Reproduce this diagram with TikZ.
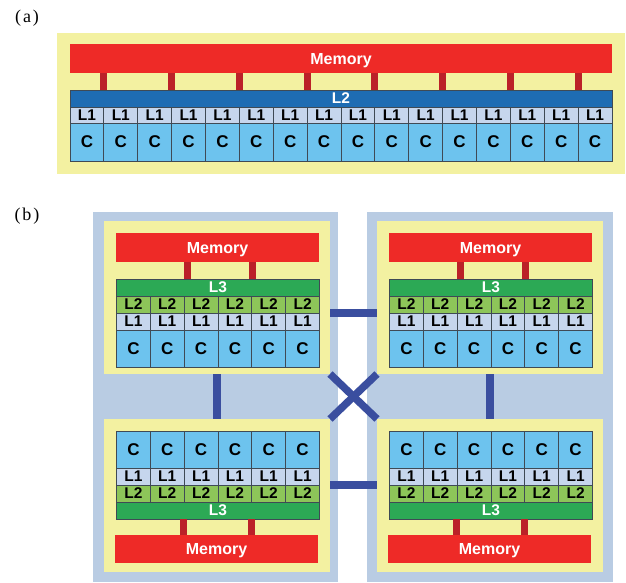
\documentclass[tikz,border=0pt]{standalone}
\usepackage{fontspec}
\setmainfont{Liberation Sans}
\newfontfamily\labfont{Liberation Serif}
\definecolor{yel}{HTML}{F3F1A1}
\definecolor{memred}{HTML}{EE2A27}
\definecolor{linkred}{HTML}{BB2128}
\definecolor{ltwob}{HTML}{1E6CB3}
\definecolor{lone}{HTML}{C6D6ED}
\definecolor{corec}{HTML}{6DC3EE}
\definecolor{gridc}{HTML}{3F4A55}
\definecolor{lthree}{HTML}{2CA955}
\definecolor{ltwog}{HTML}{8DC559}
\definecolor{panelc}{HTML}{B9CCE3}
\definecolor{netc}{HTML}{3A4E9F}
\pgfdeclarelayer{bg}
\pgfdeclarelayer{net}
\pgfsetlayers{bg,net,main}
\newcommand\rb[7]{%
  \pgfmathsetmacro\rbw{(#4)-(#2)}%
  \pgfmathsetmacro\rbh{(#5)-(#3)}%
  \pgfmathsetmacro\rbx{((#2)+(#4))/2}%
  \pgfmathsetmacro\rby{((#3)+(#5))/2}%
  \node[#6,minimum width=\rbw pt,minimum height=\rbh pt] (#1) at ({\rbx},{\rby}) {#7};}
\tikzset{
  base/.style={inner sep=0pt,outer sep=0pt,rectangle,font=\fontsize{15.5}{15.5}\selectfont\bfseries,text depth=0pt},
  yellowbox/.style={base,fill=yel},
  panelbox/.style={base,fill=panelc},
  membox/.style={base,fill=memred,text=white,font=\fontsize{16}{16}\selectfont\bfseries},
  cellbox/.style={base,draw=gridc,line width=0.8pt},
  ltwobbox/.style={cellbox,fill=ltwob,text=white},
  lthreebox/.style={cellbox,fill=lthree,text=white},
  ltwogbox/.style={cellbox,fill=ltwog},
  lonebox/.style={cellbox,fill=lone},
  corebox/.style={cellbox,fill=corec,font=\fontsize{17}{17}\selectfont\bfseries},
  memlink/.style={draw=linkred,line width=7pt},
  netlink/.style={draw=netc,line width=7.5pt},
  lab/.style={inner sep=0pt,font=\labfont\fontsize{18}{18}\selectfont}
}
\newcommand\toppanel[2]{%
  \rb{#1y}{104+#2}{221}{330+#2}{374}{yellowbox}{}
  \rb{#1m}{116+#2}{233}{319+#2}{262}{membox}{Memory}
  \rb{#1t}{116.5+#2}{279}{319.5+#2}{296}{lthreebox}{L3}
  \foreach \i in {1,...,6}{%
    \rb{#1a\i}{116.5+#2+(\i-1)*33.833}{296}{116.5+#2+\i*33.833}{313}{ltwogbox}{L2}
    \rb{#1b\i}{116.5+#2+(\i-1)*33.833}{313}{116.5+#2+\i*33.833}{330}{lonebox}{L1}
    \rb{#1c\i}{116.5+#2+(\i-1)*33.833}{330}{116.5+#2+\i*33.833}{367}{corebox}{C}
  }
  \coordinate (#1k1) at ({187.5+#2},0);
  \coordinate (#1k2) at ({252+#2},0);
  \draw[memlink] (#1m.south -| #1k1) -- (#1t.north -| #1k1);
  \draw[memlink] (#1m.south -| #1k2) -- (#1t.north -| #1k2);
}
\newcommand\botpanel[2]{%
  \rb{#1y}{104+#2}{419}{330+#2}{572}{yellowbox}{}
  \rb{#1m}{115+#2}{535}{318+#2}{563}{membox}{Memory}
  \foreach \i in {1,...,6}{%
    \rb{#1c\i}{116.5+#2+(\i-1)*33.833}{431}{116.5+#2+\i*33.833}{468}{corebox}{C}
    \rb{#1b\i}{116.5+#2+(\i-1)*33.833}{468}{116.5+#2+\i*33.833}{485}{lonebox}{L1}
    \rb{#1a\i}{116.5+#2+(\i-1)*33.833}{485}{116.5+#2+\i*33.833}{502}{ltwogbox}{L2}
  }
  \rb{#1t}{116.5+#2}{502}{319.5+#2}{519}{lthreebox}{L3}
  \coordinate (#1k1) at ({183.5+#2},0);
  \coordinate (#1k2) at ({251+#2},0);
  \draw[memlink] (#1t.south -| #1k1) -- (#1m.north -| #1k1);
  \draw[memlink] (#1t.south -| #1k2) -- (#1m.north -| #1k2);
}
\begin{document}
\begin{tikzpicture}[x=1pt,y=-1pt]
\useasboundingbox (0,0) rectangle (626,582);
% ---------- (a) ----------
\node[lab] (laba) at (27,18) {(\kern2pt a\kern2pt)};
\rb{ay}{57}{33}{625}{174}{yellowbox}{}
\rb{am}{70}{44}{612}{73}{membox}{Memory}
\rb{al}{70}{90}{612}{107}{ltwobbox}{L2}
\foreach \i in {1,...,16}{%
  \rb{ab\i}{70+(\i-1)*33.875}{107}{70+\i*33.875}{123}{lonebox}{L1}
  \rb{ac\i}{70+(\i-1)*33.875}{123}{70+\i*33.875}{161}{corebox}{C}
}
\foreach \k in {0,...,7}{%
  \coordinate (ak\k) at ({70+33.875*(1+2*\k)},0);
  \draw[memlink] (am.south -| ak\k) -- (al.north -| ak\k);
}
% ---------- (b) ----------
\node[lab] (labb) at (27,216) {(\kern2pt b\kern2pt)};
\begin{pgfonlayer}{bg}
\rb{pl}{93}{212}{338}{582}{panelbox}{}
\rb{pr}{367}{212}{613}{582}{panelbox}{}
\end{pgfonlayer}
\toppanel{tl}{0}
\toppanel{tr}{273}
\botpanel{bl}{0}
\botpanel{br}{273}
\begin{pgfonlayer}{net}
\draw[netlink] (tly.south) -- (bly.north);
\draw[netlink] (try.south) -- (bry.north);
\draw[netlink] (tly.east |- tla6.south) -- (try.west |- tla6.south);
\draw[netlink] (bly.east |- blb6.south) -- (bry.west |- blb6.south);
\draw[netlink] (tly.south east) -- (bry.north west);
\draw[netlink] (try.south west) -- (bly.north east);
\end{pgfonlayer}
\end{tikzpicture}
\end{document}
